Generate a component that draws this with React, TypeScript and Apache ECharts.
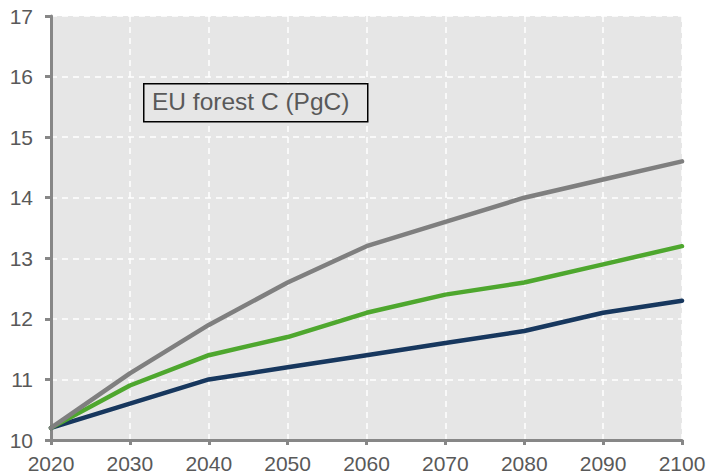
import React, { useEffect, useRef } from "react";
import * as echarts from "echarts";

const years = ["2020", "2030", "2040", "2050", "2060", "2070", "2080", "2090", "2100"];
const grayValues = [10.2, 11.1, 11.9, 12.6, 13.2, 13.6, 14.0, 14.3, 14.6];
const greenValues = [10.2, 10.9, 11.4, 11.7, 12.1, 12.4, 12.6, 12.9, 13.2];
const navyValues = [10.2, 10.6, 11.0, 11.2, 11.4, 11.6, 11.8, 12.1, 12.3];
const boxLabel = "EU forest C (PgC)";

export default function App() {
  const ref = useRef<HTMLDivElement>(null);
  useEffect(() => {
    if (!ref.current) return;
    const chart = echarts.init(ref.current, undefined, { renderer: "svg" });
    const font = "'Liberation Sans', Arial, sans-serif";
    const mk = (data: number[], color: string) => ({
      type: "line",
      data,
      symbol: "none",
      lineStyle: { color, width: 4.5, cap: "round", join: "round" },
      z: 3,
    });
    chart.setOption({
      animation: false,
      backgroundColor: "#ffffff",
      grid: {
        left: 51,
        right: 27,
        top: 16,
        bottom: 36,
        show: true,
        backgroundColor: "#e6e6e6",
        borderWidth: 0,
      },
      xAxis: {
        type: "category",
        data: years,
        boundaryGap: false,
        axisLine: { show: true, lineStyle: { color: "#878787", width: 3 } },
        axisTick: { show: true, inside: false, length: 5, lineStyle: { color: "#878787", width: 3 } },
        axisLabel: { color: "#595959", fontSize: 21, fontFamily: font, margin: 13 },
        splitLine: { show: true, lineStyle: { color: "#ffffff", width: 1.5, type: [6, 5] } },
      },
      yAxis: {
        type: "value",
        min: 10,
        max: 17,
        interval: 1,
        axisLine: { show: true, lineStyle: { color: "#878787", width: 3 } },
        axisTick: { show: true, inside: false, length: 6, lineStyle: { color: "#878787", width: 3 } },
        axisLabel: { color: "#595959", fontSize: 21, fontFamily: font, margin: 18 },
        splitLine: { show: true, lineStyle: { color: "#ffffff", width: 1.5, type: [6, 5] } },
      },
      series: [
        mk(navyValues, "#17375e"),
        mk(greenValues, "#4ea72e"),
        mk(grayValues, "#7f7f7f"),
      ],
      graphic: [
        {
          type: "rect",
          left: 143,
          top: 83,
          shape: { width: 224, height: 38 },
          style: { fill: "#e6e6e6", stroke: "#000000", lineWidth: 1.5 },
          z: 10,
        },
        {
          type: "text",
          left: 152,
          top: 89,
          style: { text: boxLabel, fill: "#595959", fontSize: 24.5, fontFamily: font },
          z: 11,
        },
      ],
    });
    return () => chart.dispose();
  }, []);
  return <div ref={ref} style={{ width: 709, height: 476, position: "absolute", left: 0, top: 0 }} />;
}
